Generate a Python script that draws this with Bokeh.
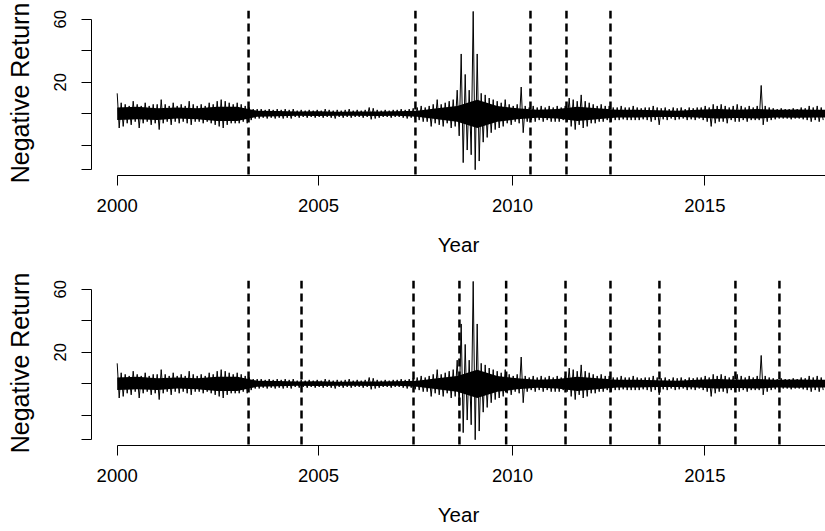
from bokeh.plotting import figure
from bokeh.models import Span, FixedTicker, Range1d
from bokeh.layouts import column
from bokeh.embed import file_html
from bokeh.resources import INLINE

# ---- data ----
year_labels = ["2000", "2005", "2010", "2015"]
year_start_index = [0, 1258, 2471, 3673]      # observation index of first day of each labelled year
days_per_sample = 25                           # each (high, low) pair covers 25 observations
core_step = 125                                # dense core band read every 125 observations

# per-block upper and lower extremes of the negative return series
neg_ret_high = [
    13, 7, 6, 5, 8, 6, 5, 7, 5, 6,
    6, 9, 6, 5, 7, 5, 6, 5, 8, 6,
    5, 6, 5, 7, 6, 8, 9, 8, 7, 6,
    7, 6, 5, 4, 3, 3, 3, 2.5, 3, 2.5,
    3, 2.5, 3, 2.5, 3, 2, 2.5, 2, 2.5, 2,
    2.5, 2, 3, 2.5, 2, 2.5, 2, 2.5, 3, 2,
    2.5, 2, 2.5, 4, 3.5, 2.5, 2, 2.5, 2, 2.5,
    2.5, 3, 2.5, 3, 3.5, 4, 5, 4, 5, 6,
    9, 6, 7, 8, 9, 15, 38, 25, 15, 65,
    38, 13, 12, 10, 9, 8, 7, 9, 6, 5,
    6, 17, 5, 4, 5, 4, 5, 4, 5, 4,
    5, 4, 5, 10, 9, 8, 12, 8, 7, 6,
    5, 6, 5, 5, 4, 4, 5, 4, 4, 5,
    4, 3.5, 4, 4, 5, 4, 3.5, 4, 3, 4,
    3.5, 4, 3, 4, 3.5, 4, 4, 5, 4, 6,
    5, 6, 5, 4, 5, 6, 5, 4, 5, 4,
    5, 18, 5, 4, 3.5, 3, 3.5, 3, 3, 3.5,
    3, 4, 3.5, 5, 4, 5, 4,
]
neg_ret_low = [
    -9, -8, -6, -7, -5, -9, -6, -5, -7, -6,
    -10, -6, -5, -7, -5, -6, -5, -6, -7, -5,
    -5, -6, -5, -6, -7, -8, -9, -7, -6, -6,
    -6, -5, -6, -4, -3, -3, -2.5, -3, -2.5, -3,
    -2.5, -3, -2.5, -3, -2, -2.5, -2, -2.5, -2, -2.5,
    -2, -2.5, -2, -2.5, -3, -2, -2.5, -2, -2.5, -2,
    -2, -2.5, -2, -3.5, -3, -2.5, -2, -2, -2.5, -2,
    -2, -2.5, -3, -2.5, -3.5, -4, -5, -5, -8, -6,
    -7, -8, -6, -9, -8, -14, -31, -23, -26, -35.5,
    -30, -18, -15, -12, -10, -9, -8, -6, -7, -5,
    -6, -12, -5, -4, -5, -4, -5, -4, -5, -5,
    -5, -4, -5, -8, -10, -7, -9, -8, -6, -6,
    -5, -5, -4, -5, -4, -4, -3.5, -4, -4, -4,
    -4, -3.5, -4, -5, -4, -7, -3.5, -4, -3, -4,
    -3.5, -3, -4, -3.5, -4, -3, -4, -5, -8, -6,
    -5, -5, -6, -4, -5, -5, -4, -5, -4, -4,
    -4, -7, -5, -4, -3.5, -3, -3, -3, -3.5, -3,
    -3, -3.5, -4, -5, -4, -5, -4,
]

# dense (solid-looking) core of the series, upper and lower edge
core_high = [4, 4.5, 3.5, 4, 3.5, 4.5, 4.5, 2, 1.8, 1.5,
             1.6, 1.3, 1.5, 1.4, 1.6, 2, 3.5, 5, 9, 5,
             3.5, 2.5, 3, 4.5, 3.5, 2.5, 2.6, 2.2, 2, 2.5,
             3, 2.6, 3, 2.5, 2.7, 2.5, 2.5]
core_low = [-4, -3.5, -4, -3, -3.5, -4.5, -4.5, -1.8, -1.5, -1.3,
            -1.4, -1.2, -1.3, -1.4, -1.3, -1.8, -3.5, -5, -9, -5,
            -3.5, -2.5, -3, -4.5, -3.5, -2.3, -2.4, -2, -2.1, -2.3,
            -3, -2.6, -3, -2.3, -2.5, -2.3, -2.3]

# change points (observation index) marked by dashed lines
breaks_top = [821, 1864, 2583, 2808, 3083]
breaks_bottom = [821, 1152, 1852, 2139, 2431, 2802, 3083, 3389, 3864, 4139]

y_ticks = [-35.5, -20, 0, 20, 40, 60]
y_tick_labels = ["", "", "", "20", "", "60"]

# ---- build the series path ----
half = days_per_sample / 2
xs, ys = [], []
for i, (h, l) in enumerate(zip(neg_ret_high, neg_ret_low)):
    t = i * days_per_sample
    xs += [t, t + half]
    ys += [h, l]
core_x = [i * core_step for i in range(len(core_high))]

X_START, X_END = -160.6, 4426.9
Y_START, Y_END = -39.17, 65.59
FONT = "Liberation Sans"


def make_panel(breaks, height, top, bottom):
    p = figure(width=825, height=height, output_backend="svg", toolbar_location=None,
               x_range=Range1d(X_START, X_END), y_range=Range1d(Y_START, Y_END),
               min_border_left=91, min_border_right=0,
               min_border_top=top, min_border_bottom=bottom)
    p.outline_line_color = None
    p.grid.visible = False
    p.background_fill_color = "white"
    p.border_fill_color = "white"

    p.varea(x=core_x, y1=core_low, y2=core_high, fill_color="black")
    p.line(xs, ys, line_color="black", line_width=1)
    for b in breaks:
        p.add_layout(Span(location=b, dimension="height", line_color="black",
                          line_width=2.5, line_dash="8 5"))

    xa = p.xaxis[0]
    xa.ticker = FixedTicker(ticks=year_start_index, minor_ticks=[])
    xa.major_label_overrides = {t: s for t, s in zip(year_start_index, year_labels)}
    xa.bounds = (0, X_END)
    xa.axis_label = "Year"
    xa.axis_label_text_font = FONT
    xa.axis_label_text_font_size = "20.5px"
    xa.axis_label_text_font_style = "normal"
    xa.axis_label_text_color = "black"
    xa.axis_label_standoff = 18
    xa.major_label_text_font = FONT
    xa.major_label_text_font_size = "18.5px"
    xa.major_label_text_color = "black"
    xa.major_label_standoff = 13
    xa.major_tick_out = 10
    xa.major_tick_in = 0
    xa.axis_line_color = "black"
    xa.major_tick_line_color = "black"

    ya = p.yaxis[0]
    ya.ticker = FixedTicker(ticks=y_ticks, minor_ticks=[])
    ya.major_label_overrides = {t: s for t, s in zip(y_ticks, y_tick_labels)}
    ya.bounds = (y_ticks[0], y_ticks[-1])
    ya.major_label_orientation = "vertical"
    ya.axis_label = "Negative Return"
    ya.axis_label_text_font = FONT
    ya.axis_label_text_font_size = "25px"
    ya.axis_label_text_font_style = "normal"
    ya.axis_label_text_color = "black"
    ya.axis_label_standoff = 18
    ya.major_label_text_font = FONT
    ya.major_label_text_font_size = "16.5px"
    ya.major_label_text_color = "black"
    ya.major_label_standoff = 15
    ya.major_tick_out = 10
    ya.major_tick_in = 0
    ya.axis_line_color = "black"
    ya.major_tick_line_color = "black"
    return p


p1 = make_panel(breaks_top, 270, 10, 95)
p2 = make_panel(breaks_bottom, 261, 10, 86)
layout = column(p1, p2, spacing=0)

open("out.html", "w").write(file_html(layout, INLINE))
